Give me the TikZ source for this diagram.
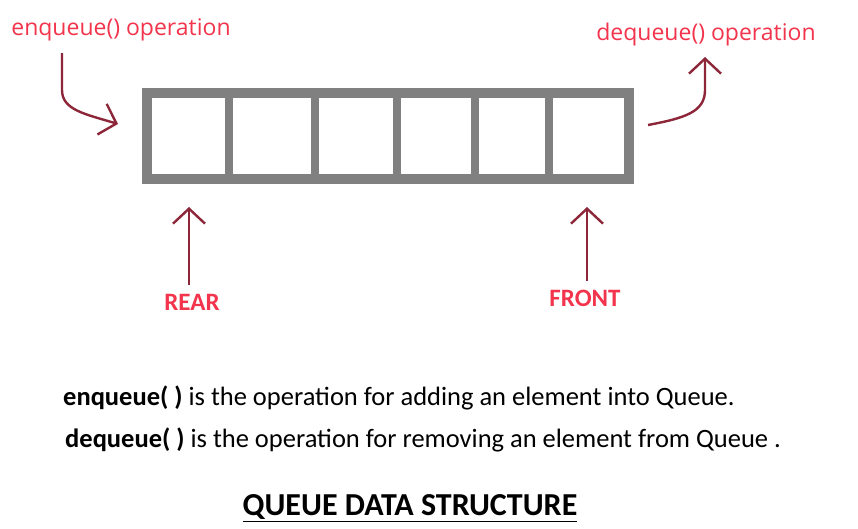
\documentclass[tikz,border=0pt]{standalone}
\usepackage{fontspec}
\setmainfont{Carlito}
\newfontfamily\opfont{Open Sans}
\usetikzlibrary{arrows.meta}
\definecolor{rouge}{HTML}{F2344C}
\definecolor{bordeaux}{HTML}{8C2638}
\definecolor{gris}{HTML}{808080}

\begin{document}
\begin{tikzpicture}[x=1pt,y=-1pt,>={Straight Barb[length=15pt,width=32pt]}]
  \useasboundingbox (0,0) rectangle (858,528);
  \tikzset{
    op/.style={text=rouge,font=\opfont\fontsize{23}{26}\selectfont,inner sep=0pt},
    bout/.style={text=rouge,font=\bfseries\fontsize{25}{28}\selectfont,inner sep=0pt},
    fleche/.style={draw=bordeaux,line width=2.4pt,->},
    ligne/.style={inner sep=0pt,anchor=west,font=\fontsize{26.5}{30}\selectfont}
  }

  % la file (cases)
  \draw[gris,line width=10pt] (147,93) rectangle (629,179);
  \foreach \x in {229,315,397,475,549}
    \draw[gris,line width=8.5pt] (\x,93) -- (\x,179);

  % textes
  \node[op] (enq) at (121,30) {enqueue() operation};
  \node[op] (deq) at (706,35) {dequeue() operation};
  \node[bout] (rear) at (192,302) {REAR};
  \node[bout] (front) at (585,298) {FRONT};

  % points libres des fleches
  \coordinate (enqDepart) at (62,53);
  \coordinate (enqPointe) at (118,124);
  \coordinate (deqDepart) at (648,125);
  \coordinate (deqPointe) at (705,57);
  \coordinate (rearPointe) at (189,207);
  \coordinate (frontPointe) at (587,207);

  % fleches
  \draw[fleche] (enqDepart) -- (62,90) .. controls (62,110) and (85,114) .. (enqPointe);
  \draw[fleche] (deqDepart) .. controls (685,118) and (705,112) .. (705,90) -- (deqPointe);
  \draw[fleche,shorten <=9pt] (rear.north -| rearPointe) -- (rearPointe);
  \draw[fleche,shorten <=9pt] (front.north -| frontPointe) -- (frontPointe);

  % explications
  \node[ligne] (l1) at (63,398) {\textbf{enqueue( )} is the operation for adding an element into Queue.};
  \node[ligne] (l2) at (65,440) {\textbf{dequeue( )} is the operation for removing an element from Queue .};
  \node[inner sep=0pt,font=\bfseries\fontsize{32}{36}\selectfont] (titre) at (410,508) {\underline{QUEUE DATA STRUCTURE}};
\end{tikzpicture}
\end{document}
